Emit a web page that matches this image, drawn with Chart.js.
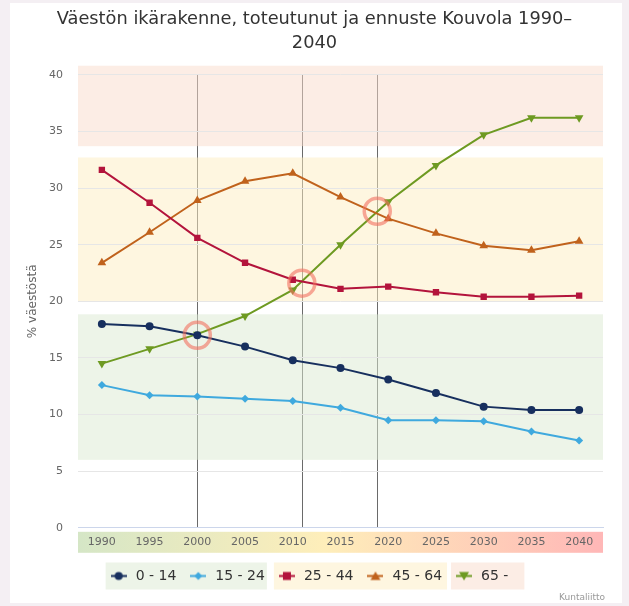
<!DOCTYPE html>
<html><head><meta charset="utf-8">
<script src="https://cdn.jsdelivr.net/npm/chart.js@4"></script>
<style>html,body{margin:0;padding:0;background:#f4eff3;overflow:hidden}canvas{display:block}</style>
</head><body>
<canvas id="c" width="629" height="606"></canvas>
<script>
const titleLines = ['Väestön ikärakenne, toteutunut ja ennuste Kouvola 1990–', '2040'];
const yAxisTitle = '% väestöstä';
const credit = 'Kuntaliitto';
const years = ['1990','1995','2000','2005','2010','2015','2020','2025','2030','2035','2040'];
const seriesNames = ['0 - 14', '15 - 24', '25 - 44', '45 - 64', '65 -'];
const age0_14  = [18.0, 17.8, 17.0, 16.0, 14.8, 14.1, 13.1, 11.9, 10.7, 10.4, 10.4];
const age15_24 = [12.6, 11.7, 11.6, 11.4, 11.2, 10.6, 9.5, 9.5, 9.4, 8.5, 7.7];
const age25_44 = [31.6, 28.7, 25.6, 23.4, 21.9, 21.1, 21.3, 20.8, 20.4, 20.4, 20.5];
const age45_64 = [23.4, 26.1, 28.9, 30.6, 31.3, 29.2, 27.3, 26.0, 24.9, 24.5, 25.3];
const age65    = [14.5, 15.8, 17.1, 18.7, 21.0, 25.0, 28.8, 32.0, 34.7, 36.2, 36.2];
const yTicks = [0, 5, 10, 15, 20, 25, 30, 35, 40];
// crossing markers (year, value)
const crossYears  = [2000, 2010.95, 2018.85];
const crossValues = [17.0, 21.6, 27.95];
// background bands (value ranges)
const bandFrom = [6.0, 20.0, 33.7];
const bandTo   = [18.85, 32.7, 40.8];
const legendGroups = [[0, 1], [2, 3], [4]];

const FONT = "'DejaVu Sans', Verdana, sans-serif";
const colors = ['#172f5e', '#3fa9de', '#b3143c', '#c0621c', '#6e9a22'];
const styles = ['circle', 'rectRot', 'rect', 'triangle', 'triangle'];
const radii = [4, 4, 4.5, 5, 5];
const rots = [0, 0, 0, 0, 180];
const bandColors = ['rgba(219,233,209,0.5)', 'rgba(253,237,193,0.5)', 'rgba(249,219,203,0.5)'];
const groupColors = ['#edf4e8', '#fef6e0', '#fcede5'];
const groupPadR = [2, 5, 16];

function markerImg(i) {
  const cv = document.createElement('canvas');
  cv.width = 16; cv.height = 11;
  const g = cv.getContext('2d');
  g.strokeStyle = colors[i]; g.lineWidth = 2;
  g.beginPath(); g.moveTo(0, 5.5); g.lineTo(16, 5.5); g.stroke();
  g.fillStyle = colors[i];
  g.beginPath();
  const cx = 8, cy = 5.5;
  if (styles[i] === 'circle') { g.arc(cx, cy, 4, 0, Math.PI * 2); }
  else if (styles[i] === 'rectRot') { g.moveTo(cx, cy - 4); g.lineTo(cx + 4, cy); g.lineTo(cx, cy + 4); g.lineTo(cx - 4, cy); g.closePath(); }
  else if (styles[i] === 'rect') { g.rect(cx - 4, cy - 4, 8, 8); }
  else if (rots[i] === 0) { g.moveTo(cx, cy - 4.5); g.lineTo(cx + 5, cy + 4); g.lineTo(cx - 5, cy + 4); g.closePath(); }
  else { g.moveTo(cx, cy + 4.5); g.lineTo(cx + 5, cy - 4); g.lineTo(cx - 5, cy - 4); g.closePath(); }
  g.fill();
  return cv;
}
const markers = seriesNames.map((_, i) => markerImg(i));

const allSeries = [age0_14, age15_24, age25_44, age45_64, age65];

const decor = {
  id: 'decor',
  afterLayout(chart) {
    const lg = chart.legend;
    lg.left -= 6; lg.right -= 6;
  },
  beforeDraw(chart) {
    const {ctx, chartArea: a, scales: {x, y}} = chart;
    ctx.save();
    ctx.fillStyle = '#f4eff3'; ctx.fillRect(0, 0, chart.width, chart.height);
    ctx.fillStyle = '#ffffff'; ctx.fillRect(10, 3, 612, 600);
    // vertical crossing lines
    ctx.strokeStyle = '#6a6a6a'; ctx.lineWidth = 1;
    crossYears.forEach(cy => {
      const px = Math.round(x.getPixelForValue((cy - 1990) / 5)) + 0.5;
      ctx.beginPath(); ctx.moveTo(px, a.top); ctx.lineTo(px, a.bottom); ctx.stroke();
    });
    // bands
    bandFrom.forEach((f, i) => {
      const y1 = y.getPixelForValue(bandTo[i]), y2 = y.getPixelForValue(f);
      ctx.fillStyle = bandColors[i];
      ctx.fillRect(a.left, y1, a.right - a.left, y2 - y1);
    });
    // x label band
    const gr = ctx.createLinearGradient(a.left, 0, a.right, 0);
    gr.addColorStop(0, 'rgb(213,230,198)');
    gr.addColorStop(0.47, 'rgb(254,238,186)');
    gr.addColorStop(1, 'rgb(255,183,183)');
    ctx.fillStyle = gr;
    ctx.fillRect(a.left, a.bottom + 4, a.right - a.left, 21);
    // legend groups
    const hb = chart.legend.legendHitBoxes;
    if (hb && hb.length) {
      legendGroups.forEach((grp, gi) => {
        const first = hb[grp[0]], last = hb[grp[grp.length - 1]];
        const cyy = first.top + first.height / 2;
        ctx.fillStyle = groupColors[gi];
        ctx.fillRect(first.left - 3, cyy - 13.5, last.left + last.width + groupPadR[gi] - first.left + 3, 27);
      });
    }
    ctx.restore();
  },
  afterDatasetsDraw(chart) {
    const {ctx, scales: {x, y}} = chart;
    ctx.save();
    ctx.strokeStyle = 'rgba(242,112,95,0.6)'; ctx.lineWidth = 3.5;
    crossYears.forEach((cy, i) => {
      ctx.beginPath();
      ctx.arc(x.getPixelForValue((cy - 1990) / 5), y.getPixelForValue(crossValues[i]), 13, 0, Math.PI * 2);
      ctx.stroke();
    });
    ctx.restore();
  },
  afterDraw(chart) {
    const {ctx} = chart;
    ctx.save();
    ctx.font = '9px ' + FONT; ctx.fillStyle = '#999'; ctx.textAlign = 'right'; ctx.textBaseline = 'alphabetic';
    ctx.fillText(credit, 605, 600);
    ctx.restore();
  }
};

new Chart(document.getElementById('c'), {
  type: 'line',
  data: {
    labels: years,
    datasets: seriesNames.map((n, i) => ({
      label: n, data: allSeries[i],
      borderColor: colors[i], backgroundColor: colors[i],
      borderWidth: 2, tension: 0,
      pointStyle: styles[i], pointRadius: radii[i], pointRotation: rots[i],
      pointBorderWidth: 0, pointHoverRadius: radii[i]
    }))
  },
  options: {
    responsive: false, animation: false, devicePixelRatio: 1,
    layout: {padding: {left: 26, right: 26, top: 0, bottom: 13}},
    plugins: {
      title: {display: true, text: titleLines, color: '#333', font: {family: FONT, size: 17.8, weight: 'normal', lineHeight: 1.315}, padding: {top: 8, bottom: 20}},
      tooltip: {enabled: false},
      legend: {
        position: 'bottom',
        labels: {
          usePointStyle: true, pointStyleWidth: 20, color: '#333', padding: 12,
          font: {family: FONT, size: 14},
          generateLabels: (chart) => chart.data.datasets.map((d, i) => ({
            text: d.label, fillStyle: colors[i], strokeStyle: colors[i], lineWidth: 0,
            pointStyle: markers[i], hidden: false, datasetIndex: i, fontColor: '#333'
          }))
        }
      }
    },
    scales: {
      x: {
        type: 'category', offset: true,
        grid: {display: false, drawTicks: false},
        border: {display: true, color: '#ccd6eb', width: 1},
        ticks: {color: '#666', font: {family: FONT, size: 11}, padding: 8, maxRotation: 0, autoSkip: false}
      },
      y: {
        min: 0, max: 40,
        afterBuildTicks: s => { s.ticks = yTicks.map(v => ({value: v})); },
        afterFit: s => { s.width = 52; },
        grid: {color: '#e6e6e6', drawTicks: false},
        border: {display: false},
        ticks: {color: '#666', font: {family: FONT, size: 11}, padding: 15},
        title: {display: true, text: yAxisTitle, color: '#666', font: {family: FONT, size: 12}, padding: {top: 0, bottom: 0}}
      }
    }
  },
  plugins: [decor]
});
</script>
</body></html>
